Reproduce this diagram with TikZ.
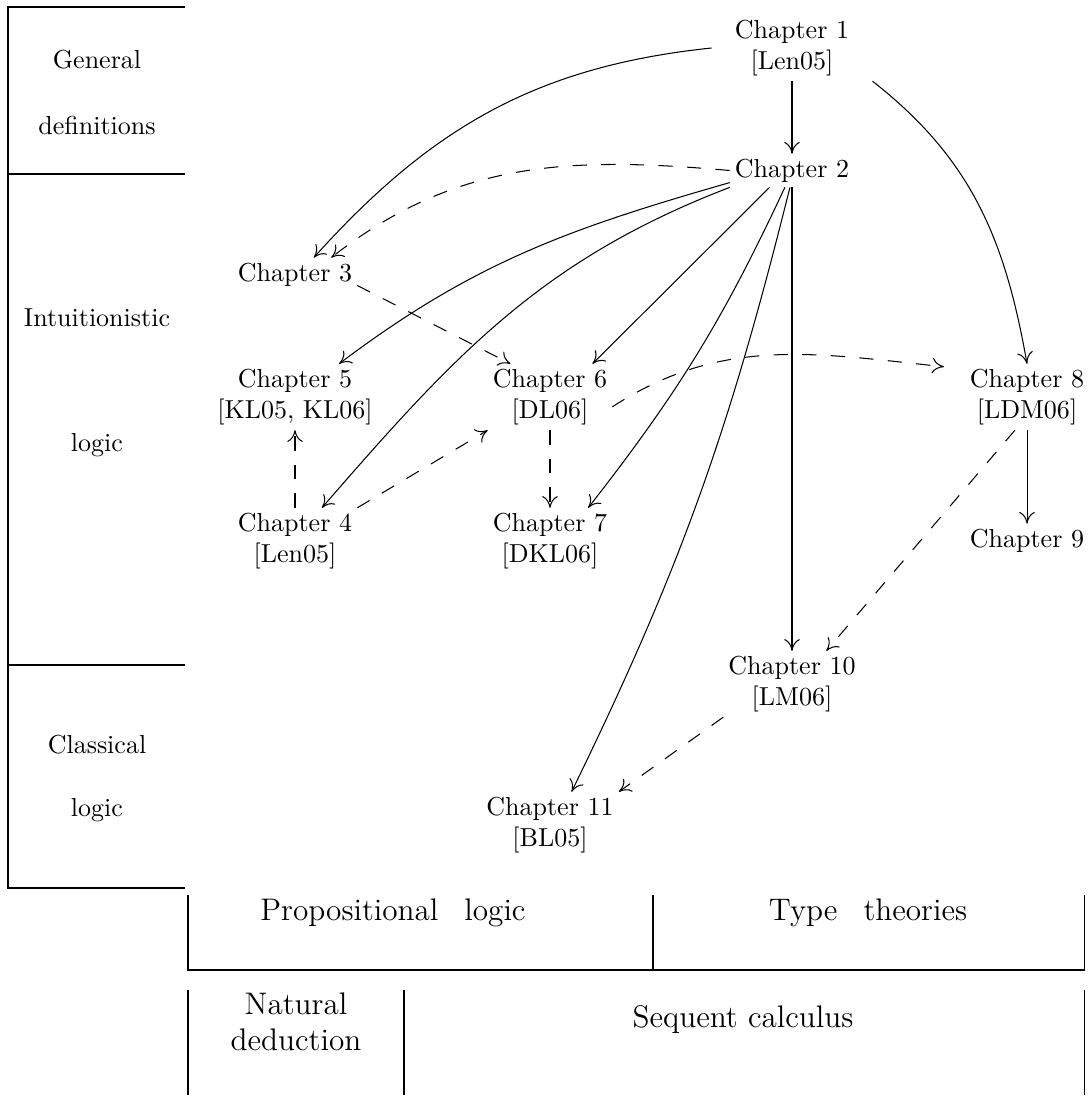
\documentclass[tikz,border=0pt]{standalone}
\usetikzlibrary{arrows.meta}
\begin{document}
\begin{tikzpicture}[x=0.3846pt,y=0.3846pt,
  ch/.style={align=center,inner sep=2pt,outer sep=0pt},
  arr/.style={-{To[length=4.5pt,width=6pt]},line width=0.4pt},
  das/.style={arr,dash pattern=on 5.5pt off 5.5pt},
  tbl/.style={line width=0.4pt},
  lab/.style={inner sep=0pt},
  big/.style={inner sep=0pt,font=\large,align=center}]
\useasboundingbox (0,0) rectangle (1090,-1102);
% left table
\draw[tbl] (185,-7) -- (8,-7) -- (8,-888) -- (185,-888);
\draw[tbl] (8,-174) -- (185,-174);
\draw[tbl] (8,-665) -- (185,-665);
\node[lab] (gen1) at (97,-60) {General};
\node[lab] (gen2) at (97,-125) {definitions};
\node[lab] (int1) at (97,-318) {Intuitionistic};
\node[lab] (int2) at (97,-445) {logic};
\node[lab] (cla1) at (97,-745) {Classical};
\node[lab] (cla2) at (97,-810) {logic};
% bottom tables
\draw[tbl] (188,-895) -- (188,-970) -- (1084,-970) -- (1084,-895);
\draw[tbl] (653,-895) -- (653,-970);
\draw[tbl] (188,-990) -- (188,-1095);
\draw[tbl] (404,-990) -- (404,-1095);
\draw[tbl] (1084,-990) -- (1084,-1095);
\node[big] (prop) at (393,-913) {Propositional\hspace{10pt}logic};
\node[big] (type) at (868,-913) {Type\hspace{10pt}theories};
\node[big] (nat) at (296,-1022) {Natural\\deduction};
\node[big] (seq) at (743,-1020) {Sequent calculus};
% chapters
\node[ch,inner xsep=9pt] (ch1) at (792,-48) {Chapter 1\\{}[Len05]};
\node[ch] (ch2) at (792,-170.5) {Chapter 2};
\node[ch] (ch3) at (295,-274.5) {Chapter 3};
\node[ch] (ch5) at (295,-397) {Chapter 5\\{}[KL05, KL06]};
\node[ch] (ch6) at (550,-397) {Chapter 6\\{}[DL06]};
\node[ch,inner xsep=10pt] (ch8) at (1027,-397) {Chapter 8\\{}[LDM06]};
\node[ch] (ch4) at (295,-541) {Chapter 4\\{}[Len05]};
\node[ch] (ch7) at (550,-541) {Chapter 7\\{}[DKL06]};
\node[ch] (ch9) at (1027,-540.5) {Chapter 9};
\node[ch] (ch10) at (792,-684) {Chapter 10\\{}[LM06]};
\node[ch] (ch11) at (550,-825) {Chapter 11\\{}[BL05]};
% edges
\draw[arr] (ch1) -- (ch2);
\draw[arr] (ch1.west) to[out=186,in=48] (ch3.42);
\draw[arr] (ch1.south east) to[out=-38,in=100] (ch8.north);
\draw[das] (ch2.west) to[out=175,in=38] (ch3.25);
\draw[arr] (ch2.191) to[out=196,in=37] (ch5.37);
\draw[arr] (ch2.south west) to[out=201,in=49] (ch4.51);
\draw[arr] (ch2.217) -- (ch6.38);
\draw[arr] (ch2.247) to[out=245,in=52] (ch7.41);
\draw[arr] (ch2.263) to[out=256,in=64] (ch11.57);
\draw[arr] (ch2) -- (ch10);
\draw[das] (ch3.-10) -- (ch6.140);
\draw[das] (ch6.-9) to[out=33,in=174] (ch8.160);
\draw[das] (ch6) -- (ch7);
\draw[das] (ch4) -- (ch5);
\draw[das] (ch4.north east) -- (ch6.south west);
\draw[arr] (ch8) -- (ch9);
\draw[das] (ch8.250) -- (ch10.44);
\draw[das] (ch10.south west) -- (ch11.north east);
\end{tikzpicture}
\end{document}
